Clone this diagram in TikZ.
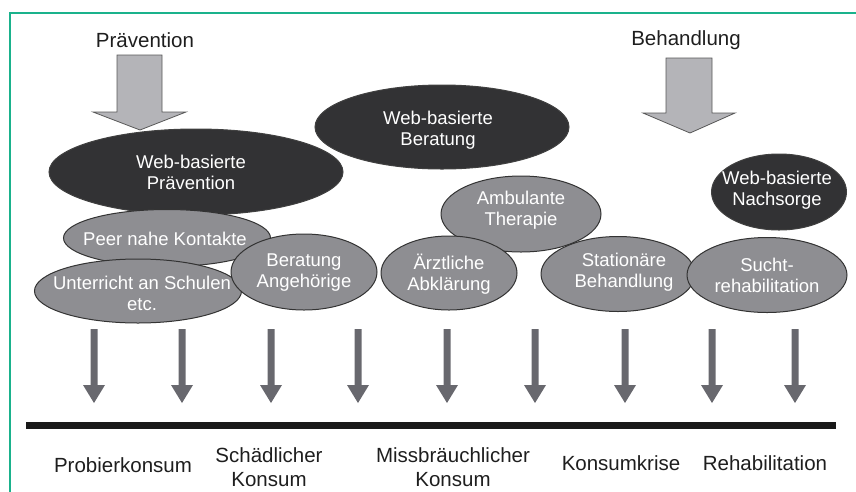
\documentclass[tikz,border=0pt]{standalone}
\usepackage{fontspec}
\setmainfont{Liberation Sans}
\usetikzlibrary{shapes.geometric}

\definecolor{framegreen}{RGB}{26,178,140}
\definecolor{darkfill}{RGB}{50,50,52}
\definecolor{midfill}{RGB}{142,142,146}
\definecolor{bigarrow}{RGB}{180,180,184}
\definecolor{smallarrow}{RGB}{104,104,110}
\definecolor{ink}{RGB}{30,30,30}

\tikzset{
  blob/.style={ellipse, inner sep=0pt, line width=1pt},
  darkblob/.style={blob, fill=darkfill, draw=black!75},
  greyblob/.style={blob, fill=midfill, draw=black!80},
  blobtext/.style={align=center, text=white, inner sep=0pt,
    font=\fontsize{18.5}{21}\selectfont},
  stage/.style={align=center, text=ink, inner sep=0pt,
    font=\fontsize{20.5}{24}\selectfont},
  bigarrowshape/.style={fill=bigarrow, draw=black!65, line width=0.8pt, line join=miter},
  tick/.style={fill=smallarrow, draw=none},
}

\begin{document}
\begin{tikzpicture}[x=1pt, y=-1pt]
\useasboundingbox (0,0) rectangle (856,491);

% frame
\draw[framegreen, line width=2pt] (10,492) -- (10,13) -- (857,13);

% headings
\node[stage] (praev) at (145,40) {Prävention};
\node[stage] (behand) at (686,40) {Behandlung};

% broad arrows below the headings
\draw[bigarrowshape] (117,55) -- (162,55) -- (162,112) -- (186,112) -- (140,130)
  -- (93,112) -- (117,112) -- cycle;
\draw[bigarrowshape] (666,58) -- (712,58) -- (712,113) -- (735,113) -- (690,133)
  -- (643,113) -- (666,113) -- cycle;

% web-based offers
\node[darkblob, minimum width=294pt, minimum height=86pt] (wpraev) at (196,172) {};
\node[blobtext] at (191,172) {Web-basierte\\Prävention};

\node[darkblob, minimum width=254pt, minimum height=84pt] (wberat) at (442,127) {};
\node[blobtext] at (438,130) {Web-basierte\\Beratung};

\node[darkblob, minimum width=135pt, minimum height=76pt] (wnach) at (779,192) {};
\node[blobtext] at (777,190) {Web-basierte\\Nachsorge};

% conventional offers
\node[greyblob, minimum width=207pt, minimum height=57pt] (peer) at (167,238) {};
\node[blobtext] at (165,239) {Peer nahe Kontakte};

\node[greyblob, minimum width=207pt, minimum height=64pt] (schule) at (138,291) {};
\node[blobtext] at (142,293) {Unterricht an Schulen\\etc.};

\node[greyblob, minimum width=146pt, minimum height=76pt] (angeh) at (304,272) {};
\node[blobtext] at (304,273) {Beratung\\Angehörige};

\node[greyblob, minimum width=160pt, minimum height=76pt] (ambul) at (521,214) {};
\node[blobtext] at (521,210) {Ambulante\\Therapie};

\node[greyblob, minimum width=136pt, minimum height=74pt] (arzt) at (449,273) {};
\node[blobtext] at (449,274) {Ärztliche\\Abklärung};

\node[greyblob, minimum width=154pt, minimum height=75pt] (station) at (618,274) {};
\node[blobtext] at (624,272) {Stationäre\\Behandlung};

\node[greyblob, minimum width=160pt, minimum height=75pt] (reha) at (767,275) {};
\node[blobtext] at (767,275) {Sucht-\\rehabilitation};

% downward arrows onto the time line
\foreach \x in {94,182,271,358,447,535,625,712,795} {
  \fill[tick] (\x-3.5,329) -- (\x+3.5,329) -- (\x+3.5,385) -- (\x+11,385)
    -- (\x,403) -- (\x-11,385) -- (\x-3.5,385) -- cycle;
}

% time line
\coordinate (lineL) at (26,425.5);
\coordinate (lineR) at (836,425.5);
\draw[black!90, line width=7pt] (lineL) -- (lineR);

% stages of consumption
\node[stage] (probier) at (123,465) {Probierkonsum};
\node[stage] (schaed) at (269,467) {Schädlicher\\Konsum};
\node[stage] (missb) at (453,467) {Missbräuchlicher\\Konsum};
\node[stage] (krise) at (621,463) {Konsumkrise};
\node[stage] (rehab) at (765,463) {Rehabilitation};
\end{tikzpicture}
\end{document}
